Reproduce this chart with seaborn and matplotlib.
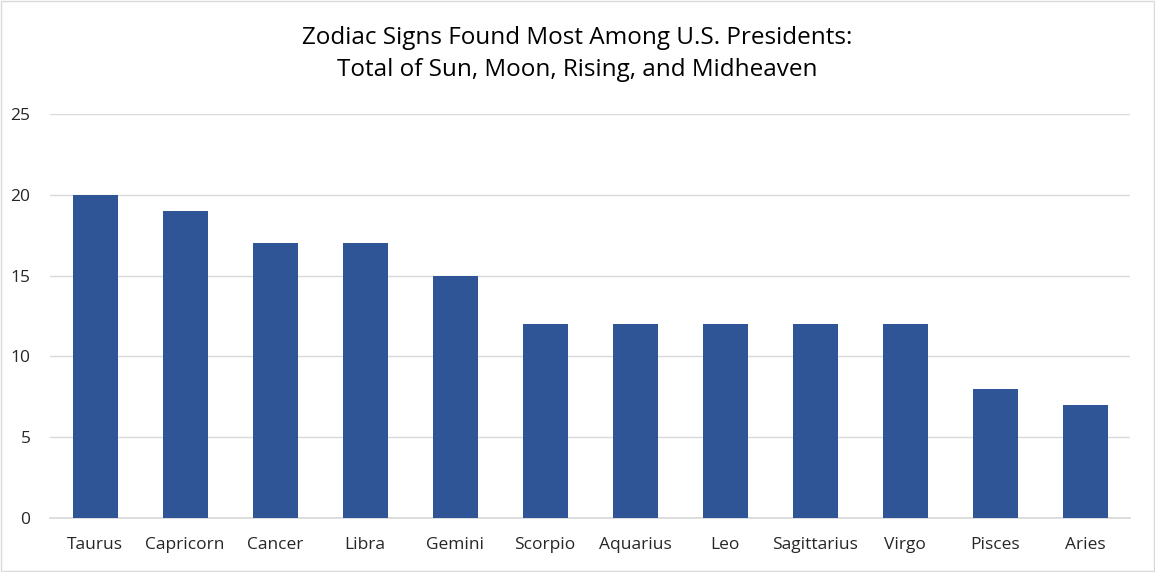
import matplotlib
matplotlib.use("Agg")
import matplotlib.pyplot as plt
import seaborn as sns
import pandas as pd

# Dados do gráfico
signs = ["Taurus", "Capricorn", "Cancer", "Libra", "Gemini", "Scorpio",
         "Aquarius", "Leo", "Sagittarius", "Virgo", "Pisces", "Aries"]
totals = [20, 19, 17, 17, 15, 12, 12, 12, 12, 12, 8, 7]
y_ticks = [0, 5, 10, 15, 20, 25]

df = pd.DataFrame({"sign": signs, "total": totals})

sns.set_theme(style="white")
plt.rcParams["font.family"] = ["Open Sans", "DejaVu Sans"]

fig = plt.figure(figsize=(11.55, 5.72), dpi=100)
ax = fig.add_axes([0.0433, 0.0944, 0.9351, 0.7063])

sns.barplot(data=df, x="sign", y="total", color="#2F5597", width=0.5,
            saturation=1, linewidth=0, ax=ax, zorder=3)

ax.set_ylim(0, 25)
ax.set_xlim(-0.5, len(signs) - 0.5)
ax.set_yticks(y_ticks)
ax.yaxis.grid(True, color="#D9D9D9", linewidth=1, zorder=0)
ax.set_xlabel("")
ax.set_ylabel("")
ax.tick_params(axis="both", length=0, labelsize=12.5, colors="#262626")
ax.tick_params(axis="y", pad=14)
ax.tick_params(axis="x", pad=14)

for side in ["top", "right", "left"]:
    ax.spines[side].set_visible(False)
ax.spines["bottom"].set_color("#D9D9D9")

fig.text(0.5, 0.906, "Zodiac Signs Found Most Among U.S. Presidents:\nTotal of Sun, Moon, Rising, and Midheaven",
         ha="center", va="center", fontsize=17.5, color="#000000", linespacing=1.45)

# Borda da figura
fig.patches.append(plt.Rectangle((0.001, 0.001), 0.998, 0.997, transform=fig.transFigure,
                                 fill=False, edgecolor="#D9D9D9", linewidth=1))

fig.savefig("out.png", dpi=100)
